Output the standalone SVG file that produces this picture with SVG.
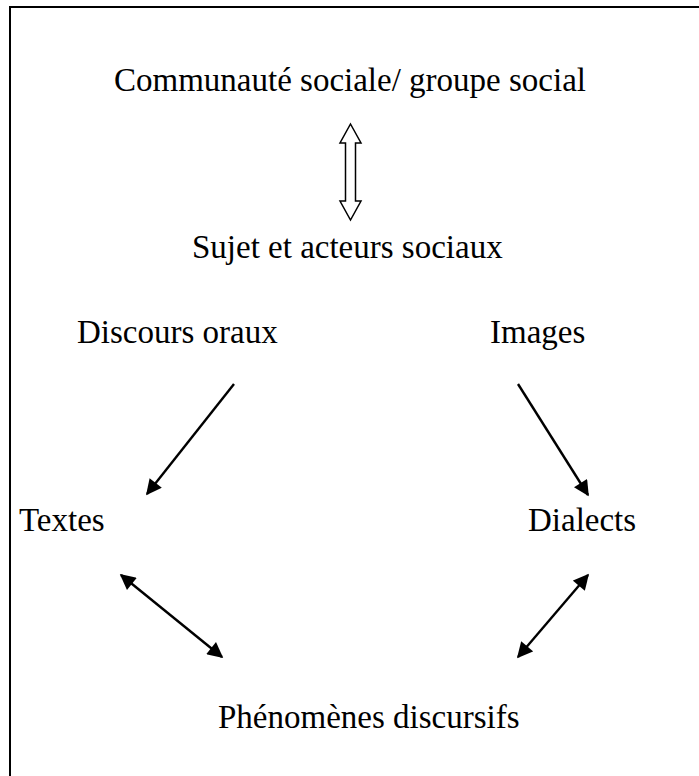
<svg xmlns="http://www.w3.org/2000/svg" width="699" height="776" viewBox="0 0 699 776">
<style>
.t{font-family:"Liberation Serif","Times New Roman",serif;font-size:33px;fill:#000}
.c{stroke:#000;stroke-width:2.4;fill:none}
</style>
<defs>
<marker id="ah" viewBox="0 0 10 10" refX="9" refY="5" markerWidth="7" markerHeight="6.5" markerUnits="strokeWidth" orient="auto-start-reverse">
<path d="M0,0 L10,5 L0,10 z" fill="#000"/>
</marker>
</defs>
<rect x="10" y="7" width="700" height="790" fill="#fff" stroke="#000" stroke-width="2"/>
<g id="n-communaute"><text class="t" x="114" y="91">Communauté sociale/ groupe social</text></g>
<g id="n-sujet"><text class="t" x="192" y="258">Sujet et acteurs sociaux</text></g>
<g id="n-discours"><text class="t" x="77" y="343">Discours oraux</text></g>
<g id="n-images"><text class="t" x="490" y="343">Images</text></g>
<g id="n-textes"><text class="t" x="19" y="531">Textes</text></g>
<g id="n-dialects"><text class="t" x="528" y="531">Dialects</text></g>
<g id="n-phenomenes"><text class="t" x="218" y="728">Phénomènes discursifs</text></g>
<g id="connectors">
<polygon points="350.5,124 361,143 355.5,143 355.5,201 361,201 350.5,220 340,201 345.5,201 345.5,143 340,143" fill="#fff" stroke="#000" stroke-width="1.5" stroke-linejoin="miter"/>
<line class="c" x1="234" y1="384" x2="147" y2="494" marker-end="url(#ah)"/>
<line class="c" x1="518" y1="384" x2="588" y2="495" marker-end="url(#ah)"/>
<line class="c" x1="121" y1="575" x2="222" y2="657" marker-start="url(#ah)" marker-end="url(#ah)"/>
<line class="c" x1="588" y1="575" x2="518" y2="657" marker-start="url(#ah)" marker-end="url(#ah)"/>
</g>
</svg>
